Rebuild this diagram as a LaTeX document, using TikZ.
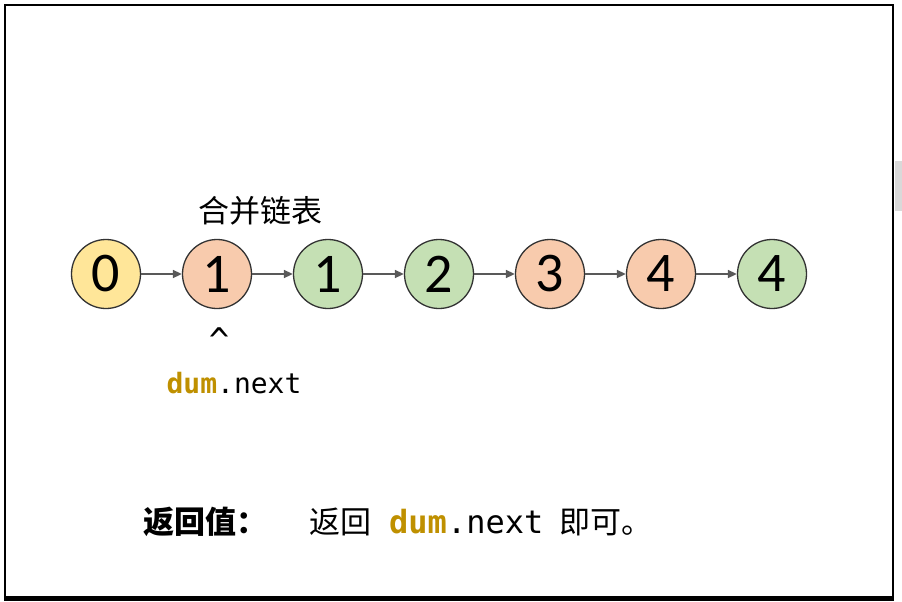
\documentclass[tikz,border=0pt]{standalone}
\usepackage{fontspec}
\setmainfont{Carlito}
\setmonofont{DejaVu Sans Mono}
\newfontfamily\cjk{Noto Sans CJK SC}
\usetikzlibrary{
  arrows.meta,
  positioning
}
\definecolor{nodeyellow}{RGB}{255,230,153}
\definecolor{nodeorange}{RGB}{248,203,173}
\definecolor{nodegreen}{RGB}{197,224,180}
\definecolor{linkgray}{RGB}{89,89,89}
\definecolor{dumgold}{RGB}{191,144,0}
\newcommand{\dumnext}{\textcolor{dumgold}{\bfseries dum}.next}
\tikzset{
  listnode/.style={
    circle,
    draw=black!80,
    line width=1.3pt,
    minimum size=69pt,
    inner sep=0pt,
    font=\fontsize{56}{56}\selectfont
  },
  headnode/.style={listnode,fill=nodeyellow},
  onenode/.style={listnode,fill=nodeorange},
  twonode/.style={listnode,fill=nodegreen},
  linkarrow/.style={-{Triangle[length=9pt,width=8pt]},line width=1.6pt,draw=linkgray},
  cjktext/.style={font=\cjk\fontsize{31}{33}\selectfont,inner sep=0pt},
  codetext/.style={font=\ttfamily\fontsize{28}{30}\selectfont,inner sep=0pt}
}
\begin{document}
\begin{tikzpicture}[x=1pt,y=-1pt,node distance=40.7pt]
  \useasboundingbox (0,0) rectangle (902,602);
  \fill[white] (0,0) rectangle (902,602);
  \fill[black!15] (895,161) rectangle (902,211);
  \draw[line width=2.5pt] (5,5) rectangle (893,597);
  \draw[line width=4pt] (4,599) -- (894,599);

  \node[headnode] (n0) at (106,274) {0};
  \node[onenode,right=of n0] (n1) {1};
  \node[twonode,right=of n1] (n2) {1};
  \node[twonode,right=of n2] (n3) {2};
  \node[onenode,right=of n3] (n4) {3};
  \node[onenode,right=of n4] (n5) {4};
  \node[twonode,right=of n5] (n6) {4};

  \draw[linkarrow] (n0) -- (n1);
  \draw[linkarrow] (n1) -- (n2);
  \draw[linkarrow] (n2) -- (n3);
  \draw[linkarrow] (n3) -- (n4);
  \draw[linkarrow] (n4) -- (n5);
  \draw[linkarrow] (n5) -- (n6);

  \node[cjktext] (title) at (260,211) {合并链表};
  \node[codetext,font=\ttfamily\fontsize{34}{34}\selectfont] (caret) at (219,340) {\textasciicircum};
  \node[codetext] (dum) at (234,383) {\dumnext};

  \node[cjktext,anchor=west] (retlabel) at (143,522) {\bfseries 返回值：};
  \node[cjktext,anchor=west] (rettext) at (309,522) {返回\hspace{18pt}{\ttfamily\fontsize{32}{34}\selectfont\dumnext}\hspace{16pt}即可。};
\end{tikzpicture}
\end{document}
